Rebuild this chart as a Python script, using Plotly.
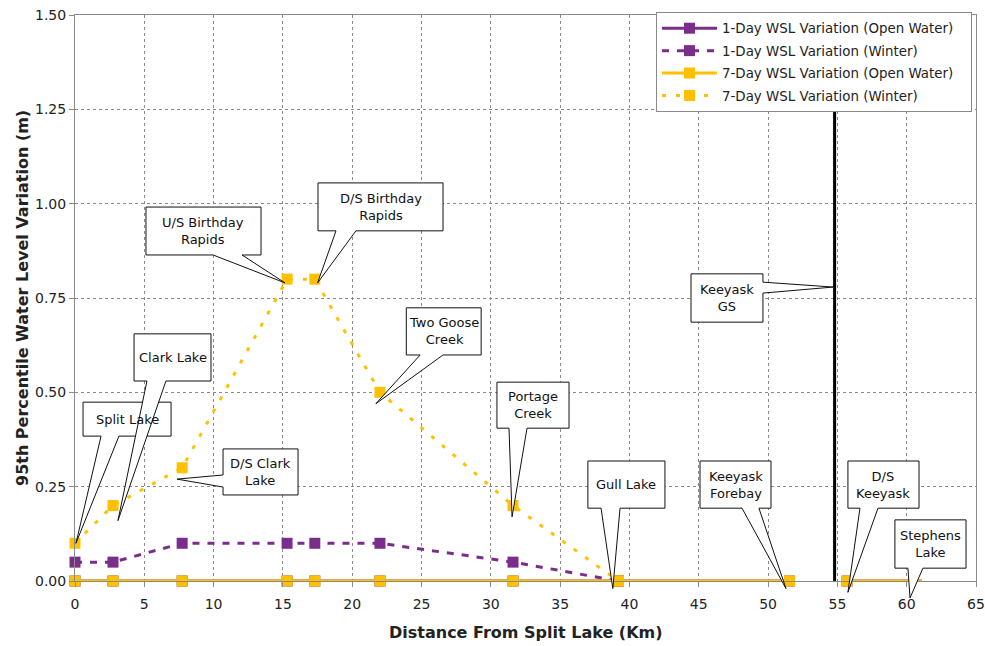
import plotly.graph_objects as go

# Sites along the river and their distance downstream of Split Lake (km)
SITES = ["Split Lake", "Clark Lake", "D/S Clark Lake", "U/S Birthday Rapids",
         "D/S Birthday Rapids", "Two Goose Creek", "Portage Creek", "Gull Lake",
         "Keeyask Forebay", "D/S Keeyask", "Stephens Lake"]
SITE_KM = [0.0, 2.74, 7.73, 15.3, 17.3, 22.0, 31.6, 39.2, 51.55, 55.7, 61.1]

# 95th percentile water level variation (m)
OPEN_1DAY = [0.00, 0.00, 0.00, 0.00, 0.00, 0.00, 0.00, 0.00, 0.00, 0.00, 0.00]
OPEN_7DAY = [0.00, 0.00, 0.00, 0.00, 0.00, 0.00, 0.00, 0.00, 0.00, 0.00, 0.00]
WINTER_KM = [0.0, 2.74, 7.73, 15.3, 17.3, 22.0, 31.6, 39.2]
WINTER_1DAY = [0.05, 0.05, 0.10, 0.10, 0.10, 0.10, 0.05, 0.00]
WINTER_7DAY = [0.10, 0.20, 0.30, 0.80, 0.80, 0.50, 0.20, 0.00]

# Keeyask generating station
DAM_KM = 54.8
DAM_LINE = [0.0, 1.25]

X_RANGE = [0, 65]
Y_RANGE = [0, 1.5]
X_TICKS = [0, 5, 10, 15, 20, 25, 30, 35, 40, 45, 50, 55, 60, 65]
Y_TICKS = [0.00, 0.25, 0.50, 0.75, 1.00, 1.25, 1.50]

PURPLE = "#7B2D8B"
GOLD = "#FFC000"
FONT = "DejaVu Sans"
PAD = "&nbsp;&nbsp;&nbsp;"


def split_at_dam(xs, ys):
    """Break the open-water profile where it crosses the generating station."""
    ox, oy = [], []
    for i, (x, y) in enumerate(zip(xs, ys)):
        if i > 0 and xs[i - 1] < DAM_KM < x:
            ox.append(None)
            oy.append(None)
        ox.append(x)
        oy.append(y)
    return ox, oy


def px(x):
    return (x - X_RANGE[0]) / (X_RANGE[1] - X_RANGE[0])


def py(y):
    return (y - Y_RANGE[0]) / (Y_RANGE[1] - Y_RANGE[0])


fig = go.Figure()

ow_x, ow_1 = split_at_dam(SITE_KM, OPEN_1DAY)
_, ow_7 = split_at_dam(SITE_KM, OPEN_7DAY)


def open_water_colors(color):
    # no marker at the downstream end of the profile
    return [("rgba(0,0,0,0)" if x == SITE_KM[-1] else color) for x in ow_x]


series = [
    ("1-Day WSL Variation (Open Water)", ow_x, ow_1, PURPLE, "solid", open_water_colors(PURPLE)),
    ("1-Day WSL Variation (Winter)", WINTER_KM, WINTER_1DAY, PURPLE, "7px,8px", PURPLE),
    ("7-Day WSL Variation (Open Water)", ow_x, ow_7, GOLD, "solid", open_water_colors(GOLD)),
    ("7-Day WSL Variation (Winter)", WINTER_KM, WINTER_7DAY, GOLD, "4px,10px", GOLD),
]
for i, (name, xs, ys, color, dash, mcolor) in enumerate(series):
    fig.add_trace(go.Scatter(
        x=xs, y=ys, name=name + PAD, mode="lines+markers",
        line=dict(color=color, width=3, dash=dash),
        marker=dict(symbol="square", size=11, color=mcolor, line=dict(width=0)),
        legendgroup=f"g{i}", cliponaxis=False, connectgaps=False,
    ))

fig.add_trace(go.Scatter(
    x=[DAM_KM, DAM_KM], y=DAM_LINE, mode="lines", showlegend=False,
    line=dict(color="black", width=3), hoverinfo="skip",
))

# Callout boxes: box extents in axis units, the side the wedge leaves from,
# the wedge base along that side, and the point the wedge tip reaches.
CALLOUTS = [
    dict(text="Split Lake", box=(0.58, 6.93, 0.384, 0.474), side="bottom",
         base=(1.88, 3.17), tip=(SITE_KM[0] + 0.07, WINTER_7DAY[0])),
    dict(text="Clark Lake", box=(4.26, 9.81, 0.530, 0.655), side="bottom",
         base=(5.19, 6.56), tip=(SITE_KM[1] + 0.36, WINTER_7DAY[1] - 0.04)),
    dict(text="D/S Clark<br>Lake", box=(10.68, 16.09, 0.228, 0.350), side="left",
         base=(0.249, 0.281), tip=(SITE_KM[2] - 0.37, WINTER_7DAY[2] - 0.03)),
    dict(text="U/S Birthday<br>Rapids", box=(5.12, 13.42, 0.864, 0.991), side="bottom",
         base=(9.96, 12.05), tip=(SITE_KM[3] - 0.15, WINTER_7DAY[3] - 0.01)),
    dict(text="D/S Birthday<br>Rapids", box=(17.53, 26.55, 0.928, 1.055), side="bottom",
         base=(18.83, 20.27), tip=(SITE_KM[4] + 0.2, WINTER_7DAY[4] - 0.01)),
    dict(text="Two Goose<br>Creek", box=(23.9, 29.3, 0.599, 0.724), side="bottom",
         base=(24.9, 26.55), tip=(SITE_KM[5] - 0.29, WINTER_7DAY[5] - 0.03)),
    dict(text="Portage<br>Creek", box=(30.44, 35.64, 0.405, 0.527), side="bottom",
         base=(31.31, 32.61), tip=(SITE_KM[6] - 0.07, WINTER_7DAY[6] - 0.03)),
    dict(text="Gull Lake", box=(37.0, 42.56, 0.193, 0.318), side="bottom",
         base=(37.95, 39.32), tip=(SITE_KM[7] - 0.4, OPEN_7DAY[7] - 0.02)),
    dict(text="Keeyask<br>GS", box=(44.44, 49.63, 0.686, 0.814), side="right",
         base=(0.763, 0.792), tip=(DAM_KM - 0.1, 0.779)),
    dict(text="Keeyask<br>Forebay", box=(45.09, 50.21, 0.193, 0.318), side="bottom",
         base=(48.12, 49.34), tip=(SITE_KM[8] - 0.26, OPEN_7DAY[8] - 0.02)),
    dict(text="D/S<br>Keeyask", box=(55.76, 60.89, 0.193, 0.318), side="bottom",
         base=(56.63, 57.93), tip=(SITE_KM[9] + 0.06, OPEN_7DAY[9] - 0.03)),
    dict(text="Stephens<br>Lake", box=(59.15, 64.28, 0.034, 0.162), side="bottom",
         base=(60.09, 61.17), tip=(SITE_KM[10] - 0.86, OPEN_7DAY[10] - 0.045)),
]


def callout_path(c):
    x0, x1, y0, y1 = px(c["box"][0]), px(c["box"][1]), py(c["box"][2]), py(c["box"][3])
    tx, ty = px(c["tip"][0]), py(c["tip"][1])
    if c["side"] == "bottom":
        b0, b1 = px(c["base"][0]), px(c["base"][1])
        pts = [(x0, y1), (x1, y1), (x1, y0), (b1, y0), (tx, ty), (b0, y0), (x0, y0)]
    elif c["side"] == "left":
        b0, b1 = py(c["base"][0]), py(c["base"][1])
        pts = [(x0, y0), (x1, y0), (x1, y1), (x0, y1), (x0, b1), (tx, ty), (x0, b0)]
    else:
        b0, b1 = py(c["base"][0]), py(c["base"][1])
        pts = [(x0, y0), (x1, y0), (x1, b0), (tx, ty), (x1, b1), (x1, y1), (x0, y1)]
    return "M " + " L ".join(f"{a:.5f},{b:.5f}" for a, b in pts) + " Z"


for c in CALLOUTS:
    fig.add_shape(type="path", path=callout_path(c), xref="paper", yref="paper",
                  fillcolor="white", line=dict(color="#111111", width=1), layer="above")
    fig.add_annotation(
        x=px((c["box"][0] + c["box"][1]) / 2), y=py((c["box"][2] + c["box"][3]) / 2),
        xref="paper", yref="paper", text=c["text"], showarrow=False,
        xanchor="center", yanchor="middle",
        font=dict(family=FONT, size=13, color="#111111"), align="center",
    )

axis_common = dict(
    showgrid=True, gridcolor="#8a8a8a", griddash="dot", gridwidth=1,
    showline=True, linecolor="#8a8a8a", linewidth=1, mirror=True,
    ticks="outside", ticklen=5, tickcolor="#8a8a8a", zeroline=False,
    tickfont=dict(family=FONT, size=14, color="#222222"), automargin=False,
)
fig.update_xaxes(range=X_RANGE, tickvals=X_TICKS, ticklabelstandoff=5, **axis_common)
fig.update_yaxes(range=Y_RANGE, tickvals=Y_TICKS, tickformat=".2f", **axis_common)

fig.add_annotation(x=0.5, y=-(632 - 581) / 566, xref="paper", yref="paper",
                   text="<b>Distance From Split Lake (Km)</b>", showarrow=False,
                   xanchor="center", yanchor="middle",
                   font=dict(family=FONT, size=16, color="#222222"))
fig.add_annotation(x=-(75 - 22) / 901, y=0.5, xref="paper", yref="paper",
                   text="<b>95th Percentile Water Level Variation (m)</b>", showarrow=False,
                   textangle=-90, xanchor="center", yanchor="middle",
                   font=dict(family=FONT, size=16, color="#222222"))

fig.update_layout(
    width=985, height=646,
    margin=dict(l=75, r=9, t=15, b=65, autoexpand=False),
    plot_bgcolor="white", paper_bgcolor="white",
    font=dict(family=FONT, color="#222222"),
    legend=dict(
        x=(656 - 75) / 901, y=1 + 3 / 566, xanchor="left", yanchor="top",
        bgcolor="white", bordercolor="#8a8a8a", borderwidth=1,
        font=dict(family=FONT, size=13.4, color="#222222"),
        traceorder="grouped", tracegroupgap=2, itemwidth=55,
    ),
    showlegend=True,
)

fig.write_html("out.html")
